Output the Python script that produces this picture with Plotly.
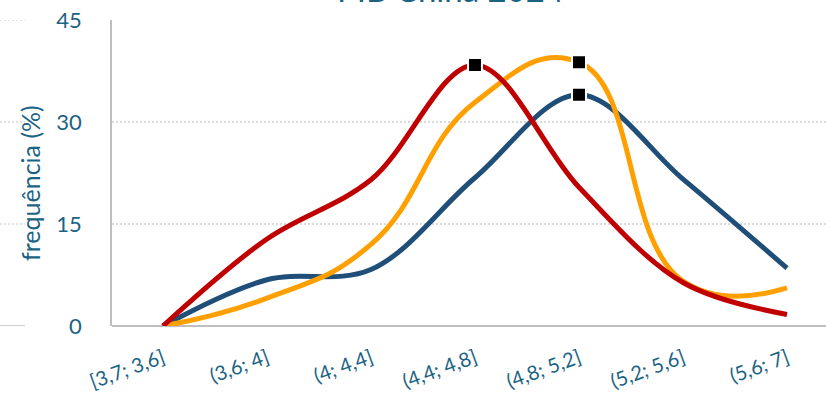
import plotly.graph_objects as go

# Income-range classes and relative frequency (%) per scenario
categories = ["[3,7; 3,6]", "(3,6; 4]", "(4; 4,4]", "(4,4; 4,8]", "(4,8; 5,2]", "(5,2; 5,6]", "(5,6; 7]"]
serie_azul = [0.0, 6.8, 8.3, 21.8, 34.0, 21.6, 8.5]
serie_laranja = [0.0, 4.1, 12.0, 32.9, 38.8, 6.6, 5.6]
serie_vermelha = [0.0, 12.8, 21.5, 38.4, 20.4, 6.4, 1.7]
y_ticks = [0, 15, 30, 45]

text_color = "#1B6383"
grid_color = "#D9D9D9"
axis_color = "#BFBFBF"
font_family = "Lato, Open Sans, sans-serif"

W, H = 826, 407
ML, MR, MT, MB = 112, 0, 20, 81
pw = W - ML - MR
ph = H - MT - MB

fig = go.Figure()
x_idx = list(range(len(categories)))

series = [
    (serie_azul, "#1F4E79", 1.0),
    (serie_laranja, "#FFA000", 1.3),
    (serie_vermelha, "#C00000", 1.0),
]
for values, color, smooth in series:
    fig.add_trace(go.Scatter(
        x=x_idx, y=values, mode="lines",
        line=dict(color=color, width=5, shape="spline", smoothing=smooth),
        showlegend=False, hoverinfo="skip",
    ))

# Peak of each series marked with a black square
for values, _, _ in series:
    k = max(range(len(values)), key=lambda i: values[i])
    fig.add_trace(go.Scatter(
        x=[x_idx[k]], y=[values[k]], mode="markers",
        marker=dict(symbol="square", size=14, color="black",
                    line=dict(color="white", width=2)),
        showlegend=False, hoverinfo="skip",
    ))

# Gridline stubs continuing to the left of the tick labels
left0 = (0 - ML) / pw
left1 = (25 - ML) / pw
for v in y_ticks:
    fig.add_shape(type="line", xref="paper", yref="y", x0=left0, x1=left1, y0=v, y1=v,
                  line=dict(color=axis_color if v == 0 else grid_color,
                            width=1.5, dash="solid" if v == 0 else "2px,2px"))

fig.add_annotation(text="PIB China 2024", xref="paper", yref="paper",
                   x=(450 - ML) / pw, y=1.03, xanchor="center", yanchor="bottom",
                   showarrow=False, font=dict(size=33, color=text_color, family=font_family))

# Vertical axis title
fig.add_annotation(text="frequência (%)", xref="paper", yref="paper",
                   x=(30 - ML) / pw, y=(H - MB - 183) / ph, xanchor="center", yanchor="middle",
                   textangle=-90, showarrow=False,
                   font=dict(size=25, color=text_color, family=font_family))

fig.update_layout(
    width=W, height=H,
    margin=dict(l=ML, r=MR, t=MT, b=MB),
    paper_bgcolor="white", plot_bgcolor="white",
    font=dict(family=font_family, color=text_color),
    xaxis=dict(
        range=[-0.49, 6.375], tickmode="array", tickvals=x_idx, ticktext=categories,
        tickangle=-20, tickfont=dict(size=20, color=text_color),
        showgrid=False, zeroline=False, showline=False,
        ticks="outside", ticklen=12, tickcolor="rgba(0,0,0,0)",
    ),
    yaxis=dict(
        range=[0, 45], tickvals=y_ticks, tickfont=dict(size=22, color=text_color),
        showgrid=True, gridcolor=grid_color, griddash="2px,2px", gridwidth=1.5,
        zeroline=True, zerolinecolor=axis_color, zerolinewidth=1.5,
        showline=True, linecolor=axis_color, linewidth=1.5,
        ticks="outside", ticklen=24, tickcolor="rgba(0,0,0,0)",
    ),
)

fig.write_html("out.html")
